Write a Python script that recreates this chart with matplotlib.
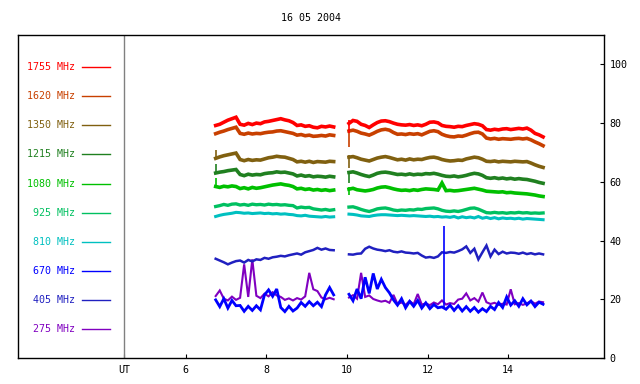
"""Radio flux plot, several frequencies, 16 05 2004."""
import numpy as np
from matplotlib import pyplot as plt

TITLE = "16 05 2004"

labels = ["1755 MHz", "1620 MHz", "1350 MHz", "1215 MHz", "1080 MHz",
          "925 MHz", "810 MHz", "670 MHz", "405 MHz", "275 MHz"]
colors = ["#ff0000", "#c84000", "#806010", "#208020", "#00c000",
          "#00c060", "#00c0c0", "#0000ff", "#2020c0", "#8000c0"]

# observation windows (UT hours)
seg1_start, seg1_end, seg1_n = 6.74, 9.67, 30
seg2_start, seg2_end, seg2_n = 10.05, 14.87, 49

# --- first window ---
f1755_a = [79.2, 79.6, 80.3, 81.0, 81.5, 82.0, 79.6, 79.3, 79.9, 79.5,
           80.0, 79.8, 80.4, 80.6, 80.9, 81.2, 81.5, 81.1, 80.8, 80.2,
           79.2, 79.4, 78.9, 79.1, 78.6, 78.4, 78.9, 78.7, 79.0, 78.7]
f1620_a = [76.4, 76.9, 77.3, 77.8, 78.2, 78.6, 76.5, 76.2, 76.6, 76.3,
           76.5, 76.4, 76.7, 76.9, 77.0, 77.3, 77.4, 77.1, 76.8, 76.5,
           75.9, 76.1, 75.7, 75.9, 75.5, 75.6, 75.8, 75.6, 76.0, 75.8]
f1350_a = [68.0, 68.5, 68.9, 69.2, 69.5, 69.8, 67.6, 67.2, 67.6, 67.3,
           67.5, 67.4, 67.8, 68.2, 68.4, 68.7, 68.5, 68.4, 68.0, 67.6,
           66.8, 67.0, 66.7, 67.0, 66.6, 66.9, 66.8, 66.7, 67.0, 66.9]
f1215_a = [63.0, 63.3, 63.5, 63.8, 64.0, 64.2, 62.5, 62.1, 62.6, 62.3,
           62.5, 62.4, 62.8, 63.0, 63.1, 63.4, 63.2, 63.3, 63.0, 62.7,
           62.0, 62.3, 61.9, 62.1, 61.7, 61.9, 61.8, 61.6, 61.9, 61.7]
f1080_a = [58.4, 58.1, 58.5, 58.3, 58.6, 58.4, 57.7, 58.0, 57.6, 58.1,
           57.8, 58.0, 58.3, 58.6, 58.9, 59.1, 59.3, 59.0, 58.8, 58.4,
           57.6, 57.8, 57.4, 57.6, 57.2, 57.4, 57.1, 57.3, 57.0, 57.2]
f925_a = [51.6, 51.9, 52.3, 52.0, 52.4, 52.5, 52.1, 52.3, 52.0, 52.4,
          52.2, 52.3, 52.1, 52.4, 52.2, 52.3, 52.1, 52.2, 52.0, 51.9,
          51.1, 51.4, 51.2, 51.3, 50.8, 50.6, 50.4, 50.6, 50.3, 50.5]
f810_a = [48.2, 48.6, 48.9, 49.1, 49.3, 49.6, 49.5, 49.3, 49.4, 49.2,
          49.3, 49.4, 49.2, 49.3, 49.1, 49.2, 49.0, 49.1, 48.9, 48.8,
          48.5, 48.4, 48.6, 48.3, 48.2, 48.1, 48.0, 48.2, 48.0, 48.1]
f670_a = [19.8, 17.5, 20.2, 17.0, 19.6, 17.8, 17.9, 15.9, 17.6, 16.2,
          17.8, 16.4, 21.5, 23.2, 21.0, 23.5, 17.2, 15.8, 17.6, 16.0,
          17.0, 18.9, 17.6, 19.2, 17.8, 19.0, 17.5, 21.5, 24.0, 21.5]
f405_a = [33.8, 33.2, 32.6, 31.9, 32.5, 33.0, 33.2, 32.5, 33.4, 32.9,
          33.6, 33.4, 34.1, 33.8, 34.3, 34.5, 34.8, 34.6, 35.0, 35.3,
          35.6, 35.2, 36.0, 36.4, 36.8, 37.5, 36.9, 37.3, 36.8, 36.7]
f275_a = [21.1, 23.0, 20.2, 19.6, 20.9, 19.8, 20.5, 31.9, 20.8, 33.6,
          21.2, 20.4, 21.9, 21.0, 22.4, 21.3, 20.8, 19.8, 20.3, 19.6,
          20.4, 19.9, 21.0, 29.0, 23.4, 22.8, 20.6, 20.0, 20.5, 20.0]

# --- second window ---
f1755_b = [79.9, 80.9, 80.6, 79.6, 79.2, 78.5, 79.4, 80.2, 80.7, 80.8,
           80.5, 80.0, 79.6, 79.4, 79.3, 79.5, 79.2, 79.4, 79.1, 79.6,
           80.3, 80.4, 80.1, 79.2, 78.9, 78.8, 78.6, 78.9, 78.8, 79.2,
           79.5, 79.8, 79.6, 79.1, 77.8, 77.6, 77.9, 77.7, 78.0, 78.1,
           77.8, 78.0, 78.2, 78.0, 78.3, 77.6, 76.5, 76.0, 75.3]
f1620_b = [77.3, 77.6, 77.2, 76.6, 76.3, 75.9, 76.5, 77.2, 77.7, 77.9,
           77.6, 76.8, 76.2, 76.3, 76.1, 76.4, 76.2, 76.4, 76.0, 76.6,
           77.2, 77.4, 77.1, 76.2, 75.7, 75.4, 75.3, 75.6, 75.5, 75.9,
           76.4, 76.8, 76.9, 76.3, 74.9, 74.6, 74.8, 74.5, 74.7, 74.6,
           74.5, 74.7, 74.8, 74.6, 74.8, 74.3, 73.6, 73.0, 72.3]
f1350_b = [68.4, 68.6, 68.2, 67.7, 67.4, 67.1, 67.6, 68.1, 68.4, 68.6,
           68.3, 67.9, 67.5, 67.7, 67.4, 67.8, 67.5, 67.7, 67.6, 68.0,
           68.3, 68.4, 68.1, 67.6, 67.3, 67.1, 67.2, 67.4, 67.3, 67.8,
           68.1, 68.4, 68.2, 67.7, 67.0, 66.9, 67.1, 66.8, 67.0, 66.9,
           66.8, 67.0, 66.9, 66.8, 66.9, 66.4, 65.8, 65.3, 64.9]
f1215_b = [63.2, 63.4, 63.0, 62.5, 62.1, 61.8, 62.3, 62.9, 63.2, 63.3,
           63.1, 62.8, 62.5, 62.6, 62.4, 62.7, 62.4, 62.6, 62.5, 62.8,
           62.7, 62.9, 62.6, 62.2, 61.9, 61.8, 62.0, 61.7, 61.9, 62.2,
           62.6, 62.9, 62.7, 62.2, 61.4, 61.2, 61.4, 61.1, 61.3, 61.0,
           61.2, 60.9, 61.1, 60.9, 60.8, 60.5, 60.2, 59.8, 59.5]
f1080_b = [57.5, 57.8, 57.3, 57.1, 56.9, 57.1, 57.4, 57.9, 58.2, 58.3,
           58.0, 57.6, 57.3, 57.1, 57.2, 57.0, 57.3, 57.1, 57.4, 57.6,
           57.5, 57.4, 57.2, 59.6, 57.0, 57.1, 56.9, 57.0, 57.2, 57.4,
           57.6, 57.8, 57.5, 57.2, 56.8, 56.7, 56.6, 56.5, 56.6, 56.3,
           56.4, 56.2, 56.1, 56.0, 55.9, 55.7, 55.5, 55.2, 55.0]
f925_b = [51.4, 51.5, 51.1, 50.6, 50.2, 49.9, 50.3, 50.8, 51.0, 51.1,
          50.8, 50.4, 50.2, 50.4, 50.3, 50.5, 50.4, 50.7, 50.6, 50.9,
          51.0, 51.1, 50.8, 50.3, 50.0, 49.9, 50.1, 49.9, 50.2, 50.6,
          51.0, 51.1, 50.7, 50.1, 49.5, 49.4, 49.6, 49.4, 49.5, 49.3,
          49.5, 49.4, 49.6, 49.4, 49.5, 49.3, 49.4, 49.3, 49.4]
f810_b = [49.0, 48.9, 48.7, 48.4, 48.3, 48.2, 48.5, 48.7, 48.8, 48.8,
          48.7, 48.6, 48.5, 48.6, 48.5, 48.4, 48.5, 48.4, 48.3, 48.2,
          48.3, 48.1, 48.2, 48.0, 48.1, 47.9, 48.2, 47.7, 48.1, 47.8,
          48.0, 47.7, 48.2, 47.6, 47.9, 47.5, 47.8, 47.4, 47.7, 47.5,
          47.6, 47.4, 47.6, 47.3, 47.5, 47.4, 47.3, 47.2, 47.1]
f670_b = [21.7, 19.5, 23.5, 20.2, 27.5, 22.0, 28.8, 23.5, 26.8, 24.0,
          22.2, 19.8, 18.0, 20.2, 17.1, 19.3, 17.6, 19.6, 17.0, 18.8,
          16.8, 18.2, 17.1, 17.4, 16.6, 18.0, 16.2, 17.8, 16.0, 17.5,
          15.9, 17.2, 15.6, 16.8, 15.8, 17.6, 16.5, 18.9, 17.2, 20.8,
          18.0, 19.5, 17.6, 20.2, 18.1, 19.4, 17.5, 19.0, 18.3]
f405_b = [35.3, 35.2, 35.5, 35.6, 37.2, 37.9, 37.3, 36.9, 36.7, 36.4,
          36.7, 36.2, 36.0, 36.3, 35.9, 35.8, 35.6, 35.8, 34.9, 34.2,
          34.4, 34.1, 34.6, 36.0, 35.8, 36.1, 35.9, 36.4, 37.0, 38.0,
          35.8, 37.2, 33.6, 36.0, 38.3, 34.6, 36.9, 35.4, 36.2, 35.6,
          35.9, 35.8, 35.5, 35.9, 35.4, 35.7, 35.3, 35.6, 35.3]
f275_b = [20.6, 21.4, 20.2, 29.0, 20.8, 21.3, 20.1, 19.6, 19.2, 19.5,
          18.8, 21.5, 18.4, 18.9, 18.1, 19.4, 18.3, 21.8, 18.2, 18.6,
          18.0, 18.9, 18.3, 19.6, 18.2, 18.7, 18.4, 19.9, 20.2, 22.0,
          19.6, 20.4, 19.2, 22.3, 19.0, 18.4, 18.8, 18.1, 18.5, 18.2,
          23.4, 18.3, 18.7, 18.1, 18.6, 19.4, 18.5, 19.2, 19.0]

# glitches at the start of each window (low, high) per frequency
start_glitch_a = [None, None, (68.0, 70.8), (63.0, 66.0), (58.4, 61.4),
                  None, None, None, None, None]
start_glitch_b = [(76.6, 81.0), (72.0, 78.0), (64.7, 69.0), (59.5, 63.8),
                  (55.6, 58.4), None, None, None, None, None]
# single 670 MHz spike
spike_time, spike_low, spike_high = 12.42, 16.6, 45.0

series_a = [f1755_a, f1620_a, f1350_a, f1215_a, f1080_a,
            f925_a, f810_a, f670_a, f405_a, f275_a]
series_b = [f1755_b, f1620_b, f1350_b, f1215_b, f1080_b,
            f925_b, f810_b, f670_b, f405_b, f275_b]

yticks = [0, 20, 40, 60, 80, 100]
xticks = [6, 8, 10, 12, 14]
UT_POS = 4.46


def plot_flux() -> None:
    """Draw all frequencies with legend inside the frame."""
    plt.rcParams["font.family"] = ["DejaVu Sans Mono"]
    fig = plt.figure(figsize=(6.4, 3.84), dpi=100)
    ax = fig.add_axes([0.0281, 0.0677, 0.9156, 0.8411])

    t_a = np.linspace(seg1_start, seg1_end, seg1_n)
    t_b = np.linspace(seg2_start, seg2_end, seg2_n)

    # draw from the lowest frequency up so the top traces sit on top
    order = [9, 7, 8, 6, 5, 4, 3, 2, 1, 0]
    widths = [2.6, 2.6, 2.6, 2.6, 2.6, 2.4, 2.2, 2.0, 1.8, 1.5]
    for k in order:
        for t, vals in ((t_a, series_a[k]), (t_b, series_b[k])):
            ax.plot(t, vals, color=colors[k], lw=widths[k], solid_joinstyle="miter")
        for t0, glitch in ((seg1_start, start_glitch_a[k]), (seg2_start, start_glitch_b[k])):
            if glitch is not None:
                ax.vlines(t0, glitch[0], glitch[1], color=colors[k], lw=1.2)
    ax.vlines(spike_time, spike_low, spike_high, color=colors[7], lw=1.2)

    # legend block on the left
    for k, label in enumerate(labels):
        y = 99.1 - 9.93 * k
        ax.text(3.25, y, label, color=colors[k], ha="right", va="center", fontsize=7.2)
        ax.plot([3.42, 4.11], [y, y], color=colors[k], lw=1.0)

    ax.axvline(UT_POS, color="#808080", lw=1.0)

    ax.set_xlim(1.831, 16.382)
    ax.set_ylim(0, 110)
    ax.set_xticks([UT_POS] + xticks)
    ax.set_xticklabels(["UT"] + [str(x) for x in xticks])
    ax.set_yticks(yticks)
    ax.yaxis.tick_right()
    ax.tick_params(axis="both", direction="in", length=3, width=0.8,
                   labelsize=7.2, pad=5)
    ax.tick_params(axis="y", pad=4)
    for spine in ax.spines.values():
        spine.set_linewidth(1.0)

    ax.set_title(TITLE, fontsize=7.2, pad=10)
    fig.savefig("out.png", dpi=100)


if __name__ == "__main__":
    plot_flux()
